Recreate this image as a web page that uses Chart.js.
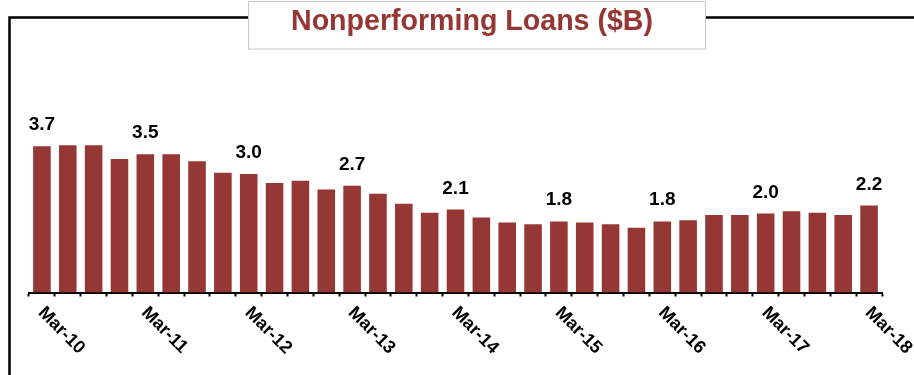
<!DOCTYPE html>
<html>
<head>
<meta charset="utf-8">
<script src="https://cdn.jsdelivr.net/npm/chart.js@4/dist/chart.umd.min.js"></script>
<style>
  html, body { margin: 0; padding: 0; background: #fff; }
  #wrap { width: 914px; height: 375px; position: relative; }
</style>
</head>
<body>
<div id="wrap"><canvas id="npl"></canvas></div>
<script>
// ----------------- DATA -----------------
const quarters = [
  'Mar-10','Jun-10','Sep-10','Dec-10',
  'Mar-11','Jun-11','Sep-11','Dec-11',
  'Mar-12','Jun-12','Sep-12','Dec-12',
  'Mar-13','Jun-13','Sep-13','Dec-13',
  'Mar-14','Jun-14','Sep-14','Dec-14',
  'Mar-15','Jun-15','Sep-15','Dec-15',
  'Mar-16','Jun-16','Sep-16','Dec-16',
  'Mar-17','Jun-17','Sep-17','Dec-17',
  'Mar-18'
];
const nplValues = [
  3.7, 3.73, 3.73, 3.38,
  3.5, 3.5, 3.32, 3.03,
  3.0, 2.77, 2.83, 2.61,
  2.7, 2.5, 2.25, 2.02,
  2.1, 1.9, 1.77, 1.73,
  1.8, 1.77, 1.73, 1.64,
  1.8, 1.83, 1.96, 1.96,
  2.0, 2.06, 2.02, 1.96,
  2.2
];
// only the March quarters get a label (axis + value)
const labelEvery = 4;
const chartTitle = 'Nonperforming Loans ($B)';

const FONT = '"Liberation Sans", Arial, sans-serif';
const BAR_COLOR = '#953735';

// frame lines + title box behind the chart
const framePlugin = {
  id: 'frame',
  beforeDraw(chart) {
    const ctx = chart.ctx;
    ctx.save();
    ctx.fillStyle = '#fff';
    ctx.fillRect(0, 0, chart.width, chart.height);

    ctx.strokeStyle = '#000';
    ctx.lineWidth = 2.5;
    ctx.beginPath();
    ctx.moveTo(9.5, chart.height);
    ctx.lineTo(9.5, 17.5);
    ctx.lineTo(248, 17.5);
    ctx.moveTo(706, 17.5);
    ctx.lineTo(chart.width, 17.5);
    ctx.stroke();

    ctx.fillStyle = '#fff';
    ctx.fillRect(248, 1.5, 457, 47.5);
    ctx.strokeStyle = '#c8c8c8';
    ctx.lineWidth = 1;
    ctx.strokeRect(248.5, 1.5, 457, 47.5);

    // title is a bit condensed, squeeze it into its width
    ctx.font = 'bold 30px ' + FONT;
    ctx.fillStyle = BAR_COLOR;
    ctx.textAlign = 'center';
    ctx.textBaseline = 'alphabetic';
    const w = ctx.measureText(chartTitle).width;
    const sx = 362 / w;
    ctx.translate(472, 29.5);
    ctx.scale(sx, 1);
    ctx.fillText(chartTitle, 0, 0);
    ctx.restore();
  }
};

// value labels above the March bars, rotated quarter labels under the axis
const labelPlugin = {
  id: 'labels',
  afterDatasetsDraw(chart) {
    const ctx = chart.ctx;
    const meta = chart.getDatasetMeta(0);
    const xScale = chart.scales.x;
    ctx.save();
    ctx.fillStyle = '#000';

    ctx.font = 'bold 19px ' + FONT;
    ctx.textAlign = 'center';
    ctx.textBaseline = 'alphabetic';
    meta.data.forEach((bar, i) => {
      if (i % labelEvery !== 0) return;
      ctx.fillText(nplValues[i].toFixed(1), bar.x, bar.y - 16);
    });

    ctx.font = 'bold 18px ' + FONT;
    ctx.textAlign = 'left';
    ctx.textBaseline = 'middle';
    quarters.forEach((q, i) => {
      if (i % labelEvery !== 0) return;
      const x = xScale.getPixelForValue(i);
      ctx.save();
      ctx.translate(x - 1, 310);
      ctx.rotate(Math.PI / 4);
      ctx.fillText(q, 0, 0);
      ctx.restore();
    });
    ctx.restore();
  }
};

const ctx = document.getElementById('npl').getContext('2d');
new Chart(ctx, {
  type: 'bar',
  data: {
    labels: quarters,
    datasets: [{
      data: nplValues,
      backgroundColor: BAR_COLOR,
      borderWidth: 0,
      barPercentage: 0.68,
      categoryPercentage: 1.0
    }]
  },
  options: {
    responsive: true,
    maintainAspectRatio: false,
    animation: false,
    layout: { padding: { left: 29, right: 32, top: 95, bottom: 78.5 } },
    plugins: {
      legend: { display: false },
      title: { display: false },
      tooltip: { enabled: false }
    },
    scales: {
      x: {
        grid: {
          offset: true,
          drawOnChartArea: false,
          drawTicks: true,
          tickLength: 4,
          tickWidth: 2,
          tickColor: '#000'
        },
        border: { display: true, color: '#000', width: 2 },
        ticks: { display: false }
      },
      y: {
        display: false,
        min: 0,
        max: 5
      }
    }
  },
  plugins: [framePlugin, labelPlugin]
});
</script>
</body>
</html>
